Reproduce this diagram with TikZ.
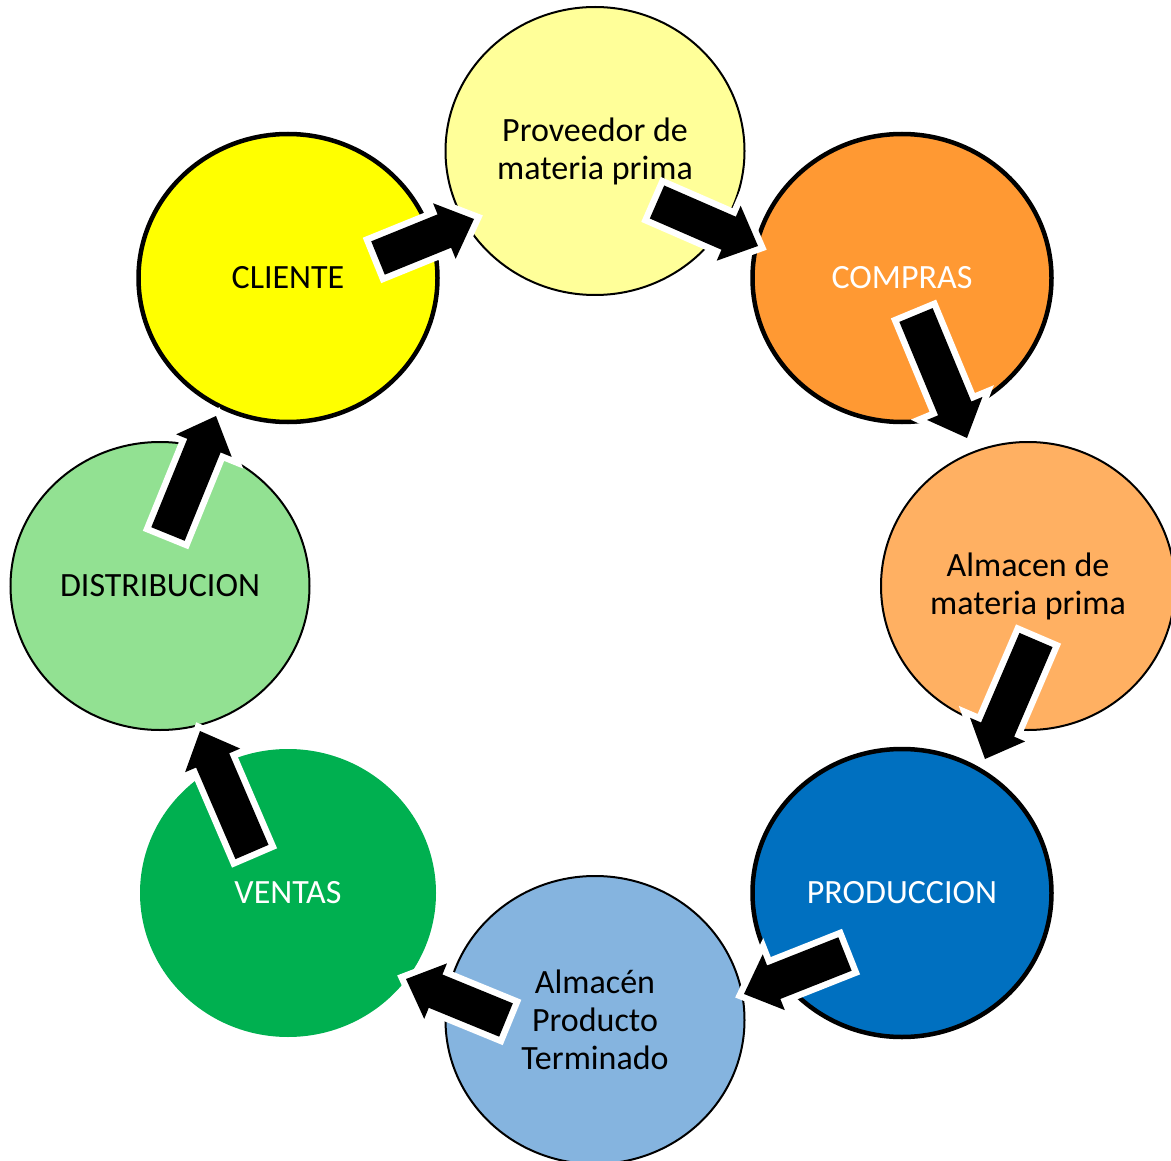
\documentclass[tikz,border=0pt]{standalone}
\usepackage{fontspec}
\setmainfont{Carlito}
\usetikzlibrary{calc,shapes.geometric}
\definecolor{cProv}{HTML}{FFFF99}
\definecolor{cComp}{HTML}{FF9933}
\definecolor{cAlmMP}{HTML}{FFB062}
\definecolor{cProd}{HTML}{0070C0}
\definecolor{cAlmPT}{HTML}{85B4DF}
\definecolor{cVent}{HTML}{00B050}
\definecolor{cDist}{HTML}{92E192}
\definecolor{cCli}{HTML}{FFFF00}
\newcommand\blockarr[2]{%
  \coordinate (#1-#2-h) at ($(#2)!32pt!(#1)$);
  \path[blockarrow] ($(#1)!18pt!90:(#2)$) -- ($(#1)!18pt!-90:(#2)$)
    -- ($(#1-#2-h)!18pt!90:(#1)$) -- ($(#1-#2-h)!30pt!90:(#1)$) -- (#2)
    -- ($(#1-#2-h)!30pt!-90:(#1)$) -- ($(#1-#2-h)!18pt!-90:(#1)$) -- cycle;}
\begin{document}
\begin{tikzpicture}[x=1pt,y=-1pt,
  bub/.style={ellipse, inner sep=0pt, minimum width=299pt, minimum height=288pt,
    align=center, font=\fontsize{34}{38}\selectfont},
  thin/.style={draw=black, line width=2pt},
  thick/.style={draw=black, line width=4.5pt},
  blockarrow/.style={fill=black, line join=miter,
    preaction={draw=white, line width=13pt, line join=miter}}]
\useasboundingbox (0,0) rectangle (1171,1161);
\node[bub, thin, fill=cProv] (prov) at (595,151) {Proveedor de\\materia prima};
\node[bub, thick, fill=cComp, text=white] (comp) at (902,278) {COMPRAS};
\node[bub, thin, fill=cAlmMP, minimum width=294pt] (almmp) at (1028,586) {Almacen de\\materia prima};
\node[bub, thick, fill=cProd, text=white] (prod) at (902,893) {PRODUCCION};
\node[bub, thin, fill=cAlmPT] (almpt) at (595,1020) {Almacén\\Producto\\Terminado};
\node[bub, fill=cVent, text=white, minimum width=296pt] (vent) at (288,893) {VENTAS};
\node[bub, thin, fill=cDist] (dist) at (160,586) {DISTRIBUCION};
\node[bub, thick, fill=cCli] (cli) at (288,278) {CLIENTE};
% arrow end points
\coordinate (a1t) at (378,258); \coordinate (a1p) at (474,219);
\coordinate (a2t) at (657,202); \coordinate (a2p) at (758,246);
\coordinate (a3t) at (916,315); \coordinate (a3p) at (967,438);
\coordinate (a4t) at (1036,640); \coordinate (a4p) at (985,759);
\coordinate (a5t) at (845,954); \coordinate (a5p) at (744,994);
\coordinate (a6t) at (506,1020); \coordinate (a6p) at (406,979);
\coordinate (a7t) at (252,852); \coordinate (a7p) at (200,731);
\coordinate (a8t) at (168,534); \coordinate (a8p) at (216,416);
\blockarr{a1t}{a1p}
\blockarr{a2t}{a2p}
\blockarr{a3t}{a3p}
\blockarr{a4t}{a4p}
\blockarr{a5t}{a5p}
\blockarr{a6t}{a6p}
\blockarr{a7t}{a7p}
\blockarr{a8t}{a8p}
\end{tikzpicture}
\end{document}
